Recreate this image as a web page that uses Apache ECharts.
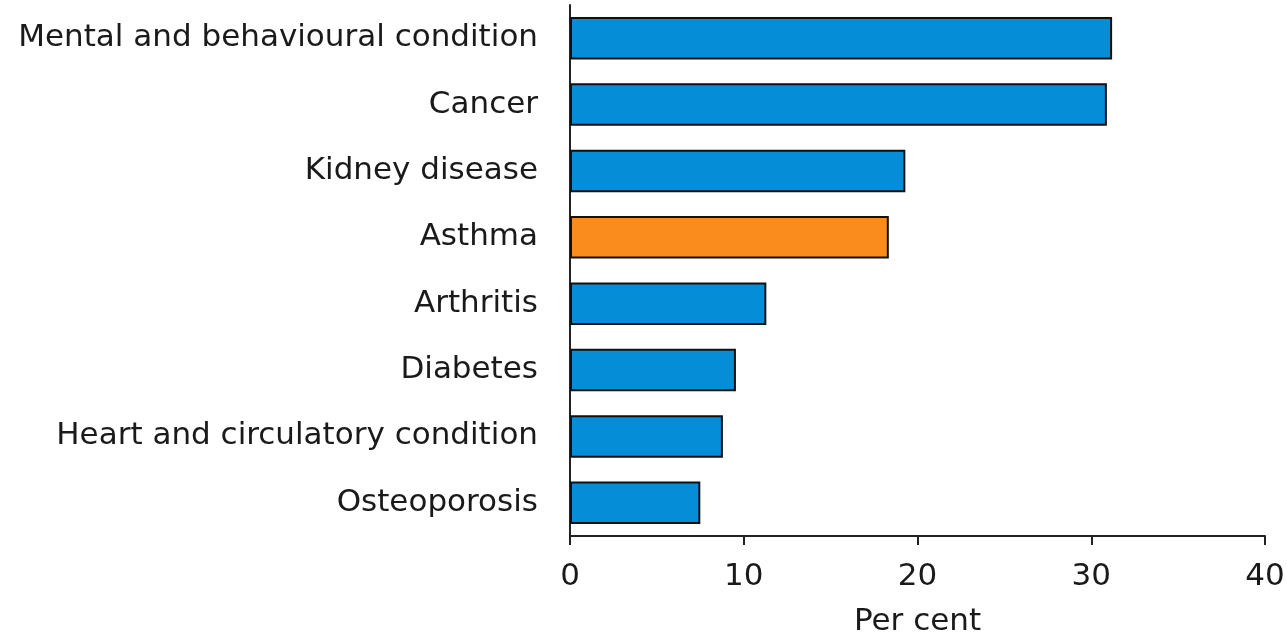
<!DOCTYPE html>
<html>
<head>
<meta charset="utf-8">
<script src="https://cdn.jsdelivr.net/npm/echarts@6/dist/echarts.min.js"></script>
<style>
html,body{margin:0;padding:0;background:#fff;}
#main{width:1287px;height:633px;}
</style>
</head>
<body>
<div id="main"></div>
<script>
// conditions, bottom to top as echarts draws category axis
var conditions = ['Osteoporosis', 'Heart and circulatory condition', 'Diabetes', 'Arthritis',
    'Asthma', 'Kidney disease', 'Cancer', 'Mental and behavioural condition'];
var perCent = [7.5, 8.8, 9.55, 11.3, 18.35, 19.3, 30.9, 31.2];
var highlight = 'Asthma';
var xTicks = [0, 10, 20, 30, 40];

var myChart = echarts.init(document.getElementById('main'));
var fontName = 'DejaVu Sans, sans-serif';

var barData = [];
for (var i = 0; i < conditions.length; i++) {
    barData.push({
        value: perCent[i],
        itemStyle: { color: conditions[i] == highlight ? '#F98C1C' : '#068DD8' }
    });
}

var option = {
    animation: false,
    grid: { left: 570, right: 22, top: 5, bottom: 97, containLabel: false, outerBoundsMode: 'none' },
    xAxis: {
        type: 'value',
        min: xTicks[0],
        max: xTicks[xTicks.length - 1],
        interval: 10,
        name: 'Per cent',
        nameLocation: 'middle',
        nameGap: 70,
        nameTextStyle: { fontFamily: fontName, fontSize: 31, color: '#1a1a1a' },
        axisLine: { show: true, lineStyle: { color: '#222', width: 2 } },
        axisTick: { show: true, inside: false, length: 9, lineStyle: { color: '#222', width: 2 } },
        axisLabel: { fontFamily: fontName, fontSize: 31, color: '#1a1a1a', margin: 25 },
        splitLine: { show: false }
    },
    yAxis: {
        type: 'category',
        data: conditions,
        axisLine: { show: true, lineStyle: { color: '#222', width: 2 } },
        axisTick: { show: false },
        axisLabel: { fontFamily: fontName, fontSize: 31, color: '#1a1a1a', margin: 32 }
    },
    series: [{
        type: 'bar',
        data: barData,
        barCategoryGap: '36%',
        itemStyle: { borderColor: '#111', borderWidth: 2 }
    }]
};
myChart.setOption(option);
</script>
</body>
</html>
